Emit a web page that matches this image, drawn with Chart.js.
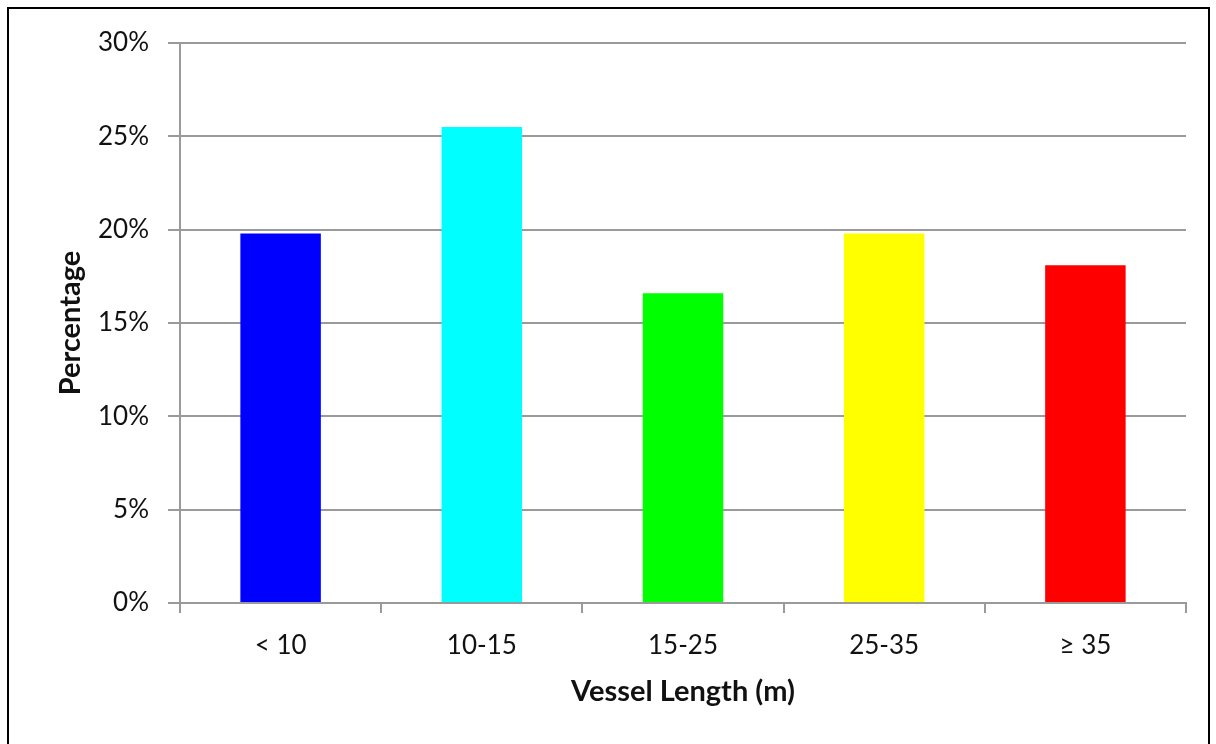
<!DOCTYPE html>
<html><head><meta charset="utf-8">
<script src="https://cdn.jsdelivr.net/npm/chart.js@4"></script>
<style>
html,body{margin:0;padding:0;background:#fff;overflow:hidden;width:1216px;height:744px}
#wrap{position:absolute;left:0;top:0;width:1216px;height:744px}
#frame{position:absolute;left:7px;top:7px;width:1203px;height:780px;border:2px solid #000;box-sizing:border-box;pointer-events:none}
</style></head><body>
<div id="wrap"><canvas id="c" width="1216" height="744"></canvas></div>
<div id="frame"></div>
<script>
const categories = ['< 10', '10-15', '15-25', '25-35', '\u2265 35'];
const percentages = [19.8, 25.5, 16.6, 19.8, 18.1];
const barColors = ['#0000FF', '#00FFFF', '#00FF00', '#FFFF00', '#FF0000'];
const yTickValues = [0, 5, 10, 15, 20, 25, 30];
const xTitle = 'Vessel Length (m)';
const yTitle = 'Percentage';

const gridColor = '#9a9a9a';
const fontFamily = 'Lato, "Open Sans", sans-serif';

new Chart(document.getElementById('c'), {
  type: 'bar',
  data: {
    labels: categories,
    datasets: [{
      data: percentages,
      backgroundColor: barColors,
      borderWidth: 0,
      barPercentage: 0.4,
      categoryPercentage: 1.0
    }]
  },
  options: {
    responsive: false,
    animation: false,
    devicePixelRatio: 1,
    layout: { padding: { left: 0, right: 30, top: 43, bottom: 0 } },
    plugins: { legend: { display: false }, tooltip: { enabled: false } },
    scales: {
      x: {
        grid: { display: true, drawOnChartArea: false, drawTicks: true, tickLength: 10, color: gridColor, lineWidth: 2, offset: true },
        border: { display: true, color: gridColor, width: 2 },
        ticks: { color: '#111', padding: 17, font: { family: fontFamily, size: 26 } },
        title: { display: true, text: xTitle, color: '#111', font: { family: fontFamily, size: 29, weight: 'bold' }, padding: { top: 0, bottom: 35 } },
        afterFit: (s) => { s.height = 141; }
      },
      y: {
        min: 0, max: 30,
        afterBuildTicks: (s) => { s.ticks = yTickValues.map(v => ({ value: v })); },
        grid: { color: gridColor, lineWidth: 2, drawTicks: true, tickLength: 12 },
        border: { display: true, color: gridColor, width: 2 },
        ticks: { color: '#111', padding: 19, font: { family: fontFamily, size: 26 }, callback: (v) => v + '%' },
        title: { display: true, text: yTitle, color: '#111', font: { family: fontFamily, size: 29, weight: 'bold' }, padding: { top: 53, bottom: 0 } },
        afterFit: (s) => { s.width = 180; }
      }
    }
  }
});
</script>
</body></html>
